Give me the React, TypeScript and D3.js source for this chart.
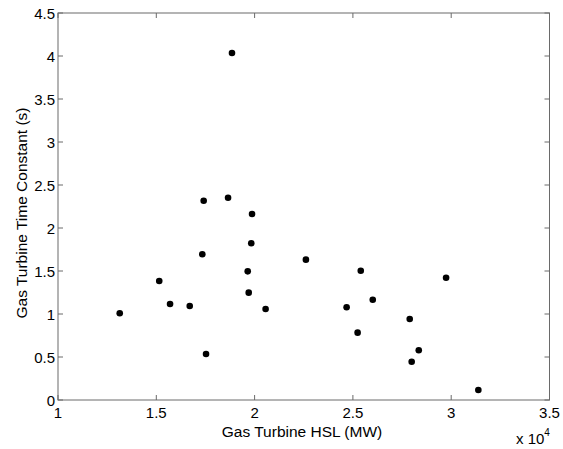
import React from "react";
import * as d3 from "d3";

const hslMW = [1.885, 1.741, 1.865, 1.987, 1.314, 1.515, 1.570, 1.670, 1.734, 1.753, 1.983, 1.965, 1.970, 2.056, 2.261, 2.540, 2.974, 2.468, 2.601, 2.524, 2.789, 2.835, 2.799, 3.138].map(v => v * 1e4);
const timeConst = [4.035, 2.317, 2.352, 2.163, 1.008, 1.384, 1.116, 1.093, 1.694, 0.535, 1.822, 1.496, 1.248, 1.058, 1.632, 1.503, 1.422, 1.078, 1.166, 0.783, 0.942, 0.578, 0.445, 0.116];
const xTicks = [1, 1.5, 2, 2.5, 3, 3.5];
const yTicks = [0, 0.5, 1, 1.5, 2, 2.5, 3, 3.5, 4, 4.5];

export default function App() {
  const W = 563, H = 449;
  const L = 58, R = 549.5, T = 13, B = 400;
  const x = d3.scaleLinear().domain([1e4, 3.5e4]).range([L, R]);
  const y = d3.scaleLinear().domain([0, 4.5]).range([B, T]);
  const font = "Liberation Sans, Arial, sans-serif";
  const axisColor = "#6a6a6a";
  const tl = 5;
  return (
    <svg width={W} height={H} style={{ position: "absolute", left: 0, top: 0, background: "#fff" }} fontFamily={font}>
      <rect x={0} y={0} width={W} height={H} fill="#fff" />
      <rect x={L} y={T} width={R - L} height={B - T} fill="none" stroke={axisColor} strokeWidth={1} />
      {xTicks.map(t => (
        <g key={"x" + t}>
          <line x1={x(t * 1e4)} x2={x(t * 1e4)} y1={B} y2={B - tl} stroke={axisColor} />
          <line x1={x(t * 1e4)} x2={x(t * 1e4)} y1={T} y2={T + tl} stroke={axisColor} />
          <text x={x(t * 1e4)} y={B + 18} fontSize={15} textAnchor="middle" fill="#000">{t}</text>
        </g>
      ))}
      {yTicks.map(t => (
        <g key={"y" + t}>
          <line x1={L} x2={L + tl} y1={y(t)} y2={y(t)} stroke={axisColor} />
          <line x1={R} x2={R - tl} y1={y(t)} y2={y(t)} stroke={axisColor} />
          <text x={L - 3} y={y(t) + 5.5} fontSize={15} textAnchor="end" fill="#000">{t}</text>
        </g>
      ))}
      {hslMW.map((v, i) => (
        <circle key={i} cx={x(v)} cy={y(timeConst[i])} r={3.3} fill="#000" />
      ))}
      <text x={302} y={436.5} fontSize={15.5} textAnchor="middle" fill="#000">Gas Turbine HSL (MW)</text>
      <text transform={`translate(27,213) rotate(-90)`} fontSize={15.5} textAnchor="middle" fill="#000">Gas Turbine Time Constant (s)</text>
      <text x={516} y={444} fontSize={15} fill="#000">x 10<tspan dy={-8} fontSize={10}>4</tspan></text>
    </svg>
  );
}
